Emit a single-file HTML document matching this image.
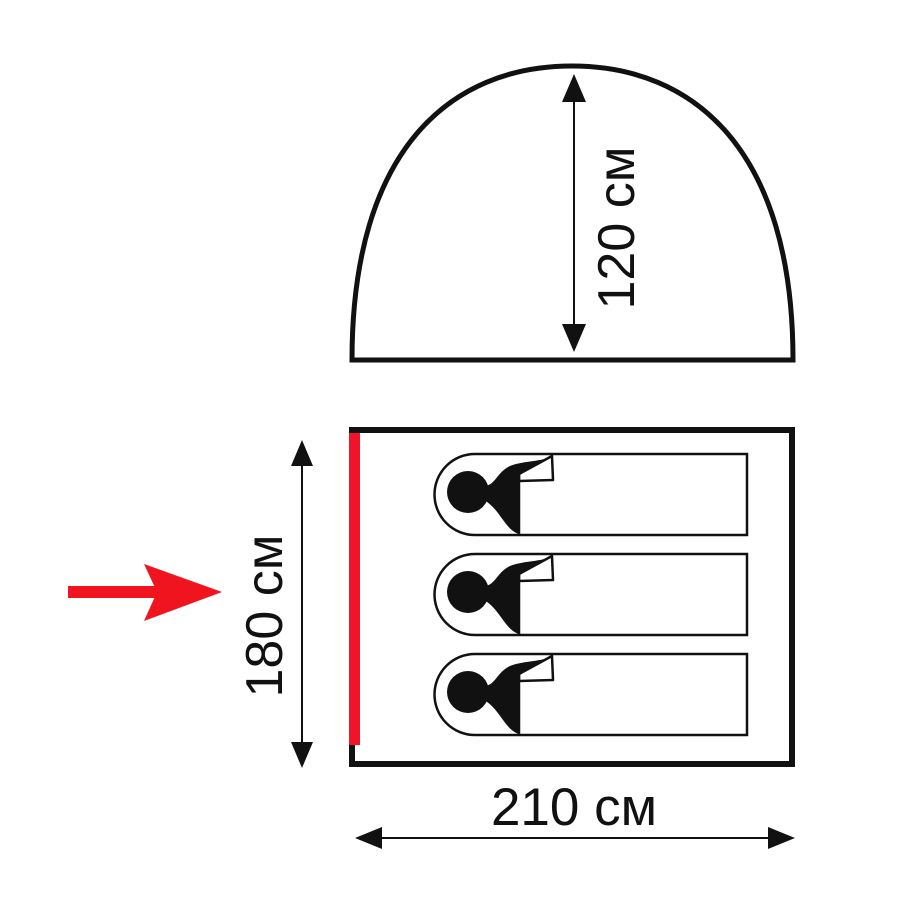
<!DOCTYPE html>
<html><head><meta charset="utf-8"><style>body{margin:0;background:#fff}svg{display:block}</style></head>
<body>
<svg width="900" height="900" viewBox="0 0 900 900" xmlns="http://www.w3.org/2000/svg" font-family="'Liberation Sans', Arial, sans-serif">
<defs>
<g id="bag">
  <path d="M475,0 H747 V81 H475 A40.5,40.5 0 0 1 475,0 Z" fill="#fff" stroke="#111" stroke-width="2.5"/>
  <circle cx="468" cy="38" r="21" fill="#111"/>
  <path d="M484,32 C495,32 497,18 510,12 C522,7 538,8 551,3 L520,20 L519,80 C505,76 500,55 484,46 Z" fill="#111"/>
  <path d="M519,20 L552,2 L553,26 L519,27 Z" fill="#fff" stroke="#111" stroke-width="2.5" stroke-linejoin="round"/>
  <line x1="519" y1="20" x2="519" y2="81" stroke="#111" stroke-width="2.5"/>
</g>
</defs>
<!-- dome -->
<path d="M352,360 C352,150 450,66 572,66 C694,66 793,150 793,360 Z" fill="#fff" stroke="#111" stroke-width="5" stroke-linejoin="miter"/>
<line x1="574" y1="95" x2="574" y2="330" stroke="#111" stroke-width="2"/>
<polygon points="574,74 562,102 586,102" fill="#111"/>
<polygon points="574,352 562,324 586,324" fill="#111"/>
<text x="0" y="0" font-size="52" fill="#111" text-anchor="middle" transform="translate(634,228) rotate(-90)">120 см</text>
<!-- floor -->
<rect x="352" y="430" width="440" height="334" fill="#fff" stroke="#111" stroke-width="6"/>
<rect x="349" y="433" width="11" height="312" fill="#f0142a"/>
<use href="#bag" y="454"/>
<use href="#bag" y="554"/>
<use href="#bag" y="654"/>
<!-- 180 -->
<line x1="302" y1="465" x2="302" y2="745" stroke="#111" stroke-width="2"/>
<polygon points="302,440 291,466 313,466" fill="#111"/>
<polygon points="302,768 291,742 313,742" fill="#111"/>
<text x="0" y="0" font-size="52" fill="#111" text-anchor="middle" transform="translate(282,616) rotate(-90)">180 см</text>
<!-- 210 -->
<line x1="380" y1="838" x2="770" y2="838" stroke="#111" stroke-width="2"/>
<polygon points="355,838 382,827 382,849" fill="#111"/>
<polygon points="795,838 768,827 768,849" fill="#111"/>
<text x="574" y="825" font-size="53" fill="#111" text-anchor="middle">210 см</text>
<!-- red arrow -->
<rect x="68" y="586" width="90" height="12" fill="#f0141e"/>
<polygon points="144,564 222,592 144,621 157,592" fill="#f0141e"/>
</svg>
</body></html>
